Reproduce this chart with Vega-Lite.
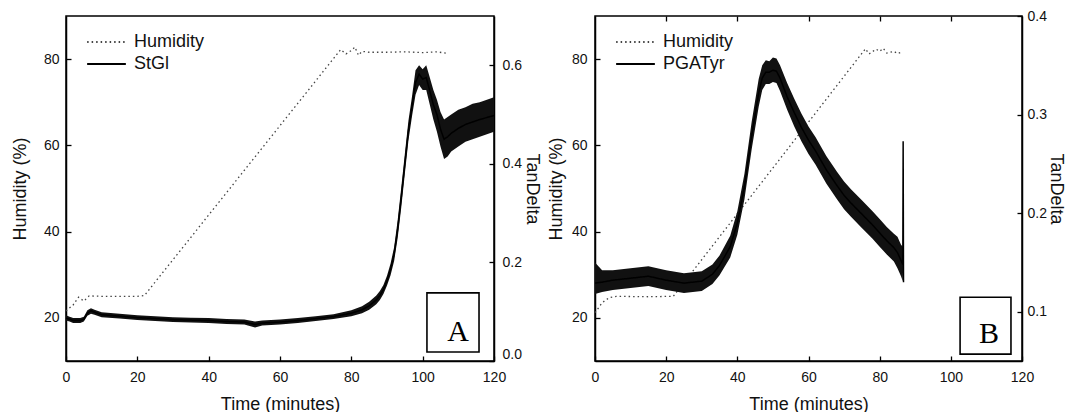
{
  "$schema": "https://vega.github.io/schema/vega-lite/v6.json",
  "background": "white",
  "padding": {"left": 10, "top": 8, "right": 2, "bottom": 0},
  "bounds": "flush",
  "spacing": 101,
  "config": {
    "view": {"stroke": "#000", "strokeWidth": 1.5},
    "font": "Liberation Sans",
    "axis": {
      "labelFont": "Liberation Sans", "labelFontSize": 14, "labelColor": "#111",
      "titleFont": "Liberation Sans", "titleFontSize": 18, "titleFontWeight": "normal", "titleColor": "#111",
      "grid": false, "domainColor": "#000", "domainWidth": 1.5,
      "tickColor": "#000", "tickWidth": 1.3, "tickSize": -5
    },
    "legend": {
      "labelFont": "Liberation Sans", "labelFontSize": 18, "labelColor": "#111",
      "symbolType": "stroke", "symbolSize": 1500, "symbolStrokeWidth": 1.8,
      "symbolOffset": 5, "labelOffset": 7, "rowPadding": 0, "clipHeight": 22, "padding": 0, "offset": 15
    }
  },
  "resolve": {"scale": {"color": "independent", "strokeDash": "independent"}},
  "datasets": {
    "humA": [
      {"t": 0, "h": 21.6, "series": "Humidity"}, {"t": 2, "h": 23.0, "series": "Humidity"},
      {"t": 3.5, "h": 24.8, "series": "Humidity"}, {"t": 5, "h": 23.9, "series": "Humidity"},
      {"t": 6.5, "h": 25.1, "series": "Humidity"}, {"t": 10, "h": 25.0, "series": "Humidity"},
      {"t": 15, "h": 25.0, "series": "Humidity"}, {"t": 20, "h": 25.0, "series": "Humidity"},
      {"t": 22, "h": 25.2, "series": "Humidity"}, {"t": 77, "h": 82.2, "series": "Humidity"},
      {"t": 78.5, "h": 81.2, "series": "Humidity"}, {"t": 80, "h": 82.0, "series": "Humidity"},
      {"t": 81, "h": 82.8, "series": "Humidity"}, {"t": 82, "h": 80.9, "series": "Humidity"},
      {"t": 83, "h": 81.8, "series": "Humidity"}, {"t": 85, "h": 81.6, "series": "Humidity"},
      {"t": 90, "h": 81.6, "series": "Humidity"}, {"t": 95, "h": 81.7, "series": "Humidity"},
      {"t": 100, "h": 81.5, "series": "Humidity"}, {"t": 104, "h": 81.7, "series": "Humidity"},
      {"t": 107, "h": 81.3, "series": "Humidity"}
    ],
    "tdA": [
      {"t": 0, "mid": 0.087, "lo": 0.082, "hi": 0.093, "series": "StGl"},
      {"t": 1, "mid": 0.085, "lo": 0.080, "hi": 0.090, "series": "StGl"},
      {"t": 2, "mid": 0.082, "lo": 0.077, "hi": 0.087, "series": "StGl"},
      {"t": 4, "mid": 0.082, "lo": 0.077, "hi": 0.087, "series": "StGl"},
      {"t": 5, "mid": 0.085, "lo": 0.080, "hi": 0.090, "series": "StGl"},
      {"t": 6, "mid": 0.097, "lo": 0.092, "hi": 0.103, "series": "StGl"},
      {"t": 7, "mid": 0.102, "lo": 0.096, "hi": 0.107, "series": "StGl"},
      {"t": 8, "mid": 0.099, "lo": 0.094, "hi": 0.104, "series": "StGl"},
      {"t": 10, "mid": 0.094, "lo": 0.089, "hi": 0.099, "series": "StGl"},
      {"t": 15, "mid": 0.091, "lo": 0.086, "hi": 0.096, "series": "StGl"},
      {"t": 20, "mid": 0.088, "lo": 0.083, "hi": 0.093, "series": "StGl"},
      {"t": 25, "mid": 0.086, "lo": 0.081, "hi": 0.091, "series": "StGl"},
      {"t": 30, "mid": 0.084, "lo": 0.079, "hi": 0.089, "series": "StGl"},
      {"t": 35, "mid": 0.083, "lo": 0.078, "hi": 0.088, "series": "StGl"},
      {"t": 40, "mid": 0.082, "lo": 0.077, "hi": 0.087, "series": "StGl"},
      {"t": 45, "mid": 0.080, "lo": 0.075, "hi": 0.085, "series": "StGl"},
      {"t": 50, "mid": 0.079, "lo": 0.074, "hi": 0.084, "series": "StGl"},
      {"t": 53, "mid": 0.074, "lo": 0.068, "hi": 0.080, "series": "StGl"},
      {"t": 55, "mid": 0.077, "lo": 0.072, "hi": 0.082, "series": "StGl"},
      {"t": 60, "mid": 0.079, "lo": 0.074, "hi": 0.084, "series": "StGl"},
      {"t": 65, "mid": 0.082, "lo": 0.077, "hi": 0.087, "series": "StGl"},
      {"t": 70, "mid": 0.086, "lo": 0.081, "hi": 0.091, "series": "StGl"},
      {"t": 75, "mid": 0.090, "lo": 0.085, "hi": 0.095, "series": "StGl"},
      {"t": 80, "mid": 0.097, "lo": 0.091, "hi": 0.103, "series": "StGl"},
      {"t": 83, "mid": 0.104, "lo": 0.097, "hi": 0.111, "series": "StGl"},
      {"t": 85, "mid": 0.112, "lo": 0.104, "hi": 0.120, "series": "StGl"},
      {"t": 87, "mid": 0.124, "lo": 0.115, "hi": 0.133, "series": "StGl"},
      {"t": 88, "mid": 0.133, "lo": 0.124, "hi": 0.142, "series": "StGl"},
      {"t": 89, "mid": 0.145, "lo": 0.136, "hi": 0.154, "series": "StGl"},
      {"t": 90, "mid": 0.163, "lo": 0.153, "hi": 0.173, "series": "StGl"},
      {"t": 91, "mid": 0.186, "lo": 0.174, "hi": 0.198, "series": "StGl"},
      {"t": 92, "mid": 0.217, "lo": 0.203, "hi": 0.231, "series": "StGl"},
      {"t": 93, "mid": 0.268, "lo": 0.250, "hi": 0.286, "series": "StGl"},
      {"t": 94, "mid": 0.332, "lo": 0.312, "hi": 0.352, "series": "StGl"},
      {"t": 95, "mid": 0.400, "lo": 0.380, "hi": 0.420, "series": "StGl"},
      {"t": 96, "mid": 0.467, "lo": 0.447, "hi": 0.487, "series": "StGl"},
      {"t": 97, "mid": 0.516, "lo": 0.496, "hi": 0.536, "series": "StGl"},
      {"t": 98, "mid": 0.565, "lo": 0.540, "hi": 0.590, "series": "StGl"},
      {"t": 99, "mid": 0.582, "lo": 0.560, "hi": 0.600, "series": "StGl"},
      {"t": 100, "mid": 0.572, "lo": 0.550, "hi": 0.592, "series": "StGl"},
      {"t": 101, "mid": 0.575, "lo": 0.550, "hi": 0.600, "series": "StGl"},
      {"t": 102, "mid": 0.548, "lo": 0.520, "hi": 0.575, "series": "StGl"},
      {"t": 103, "mid": 0.520, "lo": 0.490, "hi": 0.550, "series": "StGl"},
      {"t": 104, "mid": 0.500, "lo": 0.465, "hi": 0.530, "series": "StGl"},
      {"t": 105, "mid": 0.470, "lo": 0.435, "hi": 0.505, "series": "StGl"},
      {"t": 106, "mid": 0.450, "lo": 0.410, "hi": 0.490, "series": "StGl"},
      {"t": 107, "mid": 0.455, "lo": 0.415, "hi": 0.495, "series": "StGl"},
      {"t": 108, "mid": 0.462, "lo": 0.425, "hi": 0.500, "series": "StGl"},
      {"t": 110, "mid": 0.472, "lo": 0.435, "hi": 0.510, "series": "StGl"},
      {"t": 112, "mid": 0.480, "lo": 0.445, "hi": 0.515, "series": "StGl"},
      {"t": 114, "mid": 0.485, "lo": 0.450, "hi": 0.522, "series": "StGl"},
      {"t": 116, "mid": 0.490, "lo": 0.455, "hi": 0.525, "series": "StGl"},
      {"t": 118, "mid": 0.494, "lo": 0.460, "hi": 0.530, "series": "StGl"},
      {"t": 120, "mid": 0.498, "lo": 0.465, "hi": 0.535, "series": "StGl"}
    ],
    "humB": [
      {"t": 0, "h": 21.2, "series": "Humidity"}, {"t": 2, "h": 23.5, "series": "Humidity"},
      {"t": 4, "h": 24.7, "series": "Humidity"}, {"t": 6, "h": 25.0, "series": "Humidity"},
      {"t": 15, "h": 24.9, "series": "Humidity"}, {"t": 22, "h": 25.0, "series": "Humidity"},
      {"t": 76, "h": 82.4, "series": "Humidity"}, {"t": 77, "h": 81.2, "series": "Humidity"},
      {"t": 79, "h": 82.3, "series": "Humidity"}, {"t": 80, "h": 81.8, "series": "Humidity"},
      {"t": 81, "h": 82.5, "series": "Humidity"}, {"t": 82, "h": 81.4, "series": "Humidity"},
      {"t": 84, "h": 81.8, "series": "Humidity"}, {"t": 85, "h": 81.3, "series": "Humidity"},
      {"t": 86, "h": 81.6, "series": "Humidity"}
    ],
    "tdB": [
      {"t": 0, "mid": 0.129, "lo": 0.118, "hi": 0.150, "series": "PGATyr"},
      {"t": 2, "mid": 0.130, "lo": 0.120, "hi": 0.142, "series": "PGATyr"},
      {"t": 5, "mid": 0.132, "lo": 0.122, "hi": 0.142, "series": "PGATyr"},
      {"t": 10, "mid": 0.134, "lo": 0.124, "hi": 0.144, "series": "PGATyr"},
      {"t": 15, "mid": 0.136, "lo": 0.126, "hi": 0.146, "series": "PGATyr"},
      {"t": 20, "mid": 0.132, "lo": 0.122, "hi": 0.142, "series": "PGATyr"},
      {"t": 25, "mid": 0.129, "lo": 0.119, "hi": 0.139, "series": "PGATyr"},
      {"t": 30, "mid": 0.131, "lo": 0.121, "hi": 0.141, "series": "PGATyr"},
      {"t": 33, "mid": 0.138, "lo": 0.128, "hi": 0.148, "series": "PGATyr"},
      {"t": 35, "mid": 0.147, "lo": 0.137, "hi": 0.157, "series": "PGATyr"},
      {"t": 38, "mid": 0.166, "lo": 0.155, "hi": 0.177, "series": "PGATyr"},
      {"t": 40, "mid": 0.190, "lo": 0.178, "hi": 0.202, "series": "PGATyr"},
      {"t": 42, "mid": 0.227, "lo": 0.214, "hi": 0.240, "series": "PGATyr"},
      {"t": 44, "mid": 0.278, "lo": 0.264, "hi": 0.292, "series": "PGATyr"},
      {"t": 46, "mid": 0.322, "lo": 0.308, "hi": 0.336, "series": "PGATyr"},
      {"t": 47, "mid": 0.337, "lo": 0.325, "hi": 0.350, "series": "PGATyr"},
      {"t": 48, "mid": 0.343, "lo": 0.331, "hi": 0.355, "series": "PGATyr"},
      {"t": 49, "mid": 0.343, "lo": 0.331, "hi": 0.354, "series": "PGATyr"},
      {"t": 50, "mid": 0.345, "lo": 0.333, "hi": 0.358, "series": "PGATyr"},
      {"t": 51, "mid": 0.344, "lo": 0.332, "hi": 0.357, "series": "PGATyr"},
      {"t": 52, "mid": 0.337, "lo": 0.324, "hi": 0.350, "series": "PGATyr"},
      {"t": 54, "mid": 0.318, "lo": 0.305, "hi": 0.332, "series": "PGATyr"},
      {"t": 56, "mid": 0.302, "lo": 0.288, "hi": 0.316, "series": "PGATyr"},
      {"t": 58, "mid": 0.287, "lo": 0.273, "hi": 0.301, "series": "PGATyr"},
      {"t": 60, "mid": 0.274, "lo": 0.260, "hi": 0.288, "series": "PGATyr"},
      {"t": 62, "mid": 0.263, "lo": 0.249, "hi": 0.277, "series": "PGATyr"},
      {"t": 65, "mid": 0.244, "lo": 0.230, "hi": 0.258, "series": "PGATyr"},
      {"t": 68, "mid": 0.228, "lo": 0.214, "hi": 0.242, "series": "PGATyr"},
      {"t": 70, "mid": 0.218, "lo": 0.204, "hi": 0.232, "series": "PGATyr"},
      {"t": 72, "mid": 0.210, "lo": 0.196, "hi": 0.224, "series": "PGATyr"},
      {"t": 75, "mid": 0.199, "lo": 0.185, "hi": 0.213, "series": "PGATyr"},
      {"t": 78, "mid": 0.188, "lo": 0.174, "hi": 0.202, "series": "PGATyr"},
      {"t": 80, "mid": 0.180, "lo": 0.166, "hi": 0.194, "series": "PGATyr"},
      {"t": 82, "mid": 0.172, "lo": 0.158, "hi": 0.186, "series": "PGATyr"},
      {"t": 84, "mid": 0.165, "lo": 0.151, "hi": 0.179, "series": "PGATyr"},
      {"t": 85, "mid": 0.160, "lo": 0.144, "hi": 0.176, "series": "PGATyr"},
      {"t": 86, "mid": 0.152, "lo": 0.136, "hi": 0.168, "series": "PGATyr"},
      {"t": 86.5, "mid": 0.148, "lo": 0.131, "hi": 0.166, "series": "PGATyr"},
      {"t": 86.6, "mid": 0.273, "lo": 0.148, "hi": 0.148, "series": "PGATyr"},
      {"t": 86.7, "mid": 0.130, "lo": 0.130, "hi": 0.130, "series": "PGATyr"}
    ],
    "boxA": [{"t1": 101.2, "t2": 115.8, "h1": 12.1, "h2": 25.8, "tc": 109.9, "hb": 14.6, "label": "A"}],
    "boxB": [{"t1": 102.6, "t2": 116.9, "h1": 11.6, "h2": 24.8, "tc": 110.7, "hb": 14.2, "label": "B"}]
  },
  "hconcat": [
    {
      "width": 428, "height": 345,
      "resolve": {"scale": {"y": "independent"}},
      "layer": [
        {
          "data": {"name": "humA"},
          "mark": {"type": "line", "strokeWidth": 1.3},
          "encoding": {
            "x": {"field": "t", "type": "quantitative", "scale": {"domain": [0, 120], "nice": false},
                  "axis": {"values": [0, 20, 40, 60, 80, 100, 120], "title": "Time (minutes)", "labelFlush": false, "labelPadding": 14, "titlePadding": 11}},
            "y": {"field": "h", "type": "quantitative", "scale": {"domain": [10, 90], "nice": false},
                  "axis": {"orient": "left", "values": [20, 40, 60, 80], "title": "Humidity (%)", "labelPadding": 12, "titlePadding": 14}},
            "color": {"field": "series", "type": "nominal", "scale": {"domain": ["Humidity", "StGl"], "range": ["#444", "#000"]},
                      "legend": {"orient": "top-left", "title": null}},
            "strokeDash": {"field": "series", "type": "nominal", "scale": {"domain": ["Humidity", "StGl"], "range": [[1.5, 3], [1, 0]]},
                           "legend": {"orient": "top-left", "title": null}}
          }
        },
        {
          "data": {"name": "tdA"},
          "layer": [
            {
              "mark": {"type": "area", "color": "#111"},
              "encoding": {
                "x": {"field": "t", "type": "quantitative"},
                "y": {"field": "lo", "type": "quantitative", "scale": {"domain": [0, 0.7], "nice": false},
                      "axis": {"orient": "right", "values": [0, 0.2, 0.4, 0.6], "format": ".1f", "title": "TanDelta", "labelFlush": true, "labelPadding": 13, "titlePadding": 1}},
                "y2": {"field": "hi"}
              }
            },
            {
              "mark": {"type": "line", "strokeWidth": 1.5},
              "encoding": {
                "x": {"field": "t", "type": "quantitative"},
                "y": {"field": "mid", "type": "quantitative"},
                "color": {"field": "series", "type": "nominal"},
                "strokeDash": {"field": "series", "type": "nominal"}
              }
            }
          ]
        },
        {
          "data": {"name": "boxA"},
          "layer": [
            {
              "mark": {"type": "rect", "fill": "white", "stroke": "#000", "strokeWidth": 1.6},
              "encoding": {
                "x": {"field": "t1", "type": "quantitative"}, "x2": {"field": "t2"},
                "y": {"field": "h1", "type": "quantitative", "scale": {"domain": [10, 90], "nice": false}, "axis": null},
                "y2": {"field": "h2"}
              }
            },
            {
              "mark": {"type": "text", "font": "Liberation Serif", "fontSize": 30, "baseline": "alphabetic", "align": "center", "color": "#000"},
              "encoding": {
                "x": {"field": "tc", "type": "quantitative"},
                "y": {"field": "hb", "type": "quantitative"},
                "text": {"field": "label"}
              }
            }
          ]
        }
      ]
    },
    {
      "width": 427, "height": 345,
      "resolve": {"scale": {"y": "independent"}, "axis": {"x": "independent"}},
      "layer": [
        {
          "data": {"name": "humB"},
          "mark": {"type": "line", "strokeWidth": 1.3},
          "encoding": {
            "x": {"field": "t", "type": "quantitative", "scale": {"domain": [0, 120], "nice": false},
                  "axis": {"values": [0, 20, 40, 60, 80, 100, 120], "title": "Time (minutes)", "labelFlush": false, "labelPadding": 14, "titlePadding": 11}},
            "y": {"field": "h", "type": "quantitative", "scale": {"domain": [10, 90], "nice": false},
                  "axis": {"orient": "left", "values": [20, 40, 60, 80], "title": "Humidity (%)", "labelPadding": 13, "titlePadding": 6}},
            "color": {"field": "series", "type": "nominal", "scale": {"domain": ["Humidity", "PGATyr"], "range": ["#444", "#000"]},
                      "legend": {"orient": "top-left", "title": null}},
            "strokeDash": {"field": "series", "type": "nominal", "scale": {"domain": ["Humidity", "PGATyr"], "range": [[1.5, 3], [1, 0]]},
                           "legend": {"orient": "top-left", "title": null}}
          }
        },
        {
          "data": {"name": "tdB"},
          "layer": [
            {
              "mark": {"type": "area", "color": "#111"},
              "encoding": {
                "x": {"field": "t", "type": "quantitative",
                      "axis": {"orient": "top", "values": [20, 40, 60, 80, 100], "labels": false, "title": null, "domain": false}},
                "y": {"field": "lo", "type": "quantitative", "scale": {"domain": [0.05, 0.4], "nice": false},
                      "axis": {"orient": "right", "values": [0.1, 0.2, 0.3, 0.4], "format": ".1f", "title": "TanDelta", "labelPadding": 10, "titlePadding": 0}},
                "y2": {"field": "hi"}
              }
            },
            {
              "mark": {"type": "line", "strokeWidth": 1.5},
              "encoding": {
                "x": {"field": "t", "type": "quantitative"},
                "y": {"field": "mid", "type": "quantitative"},
                "color": {"field": "series", "type": "nominal"},
                "strokeDash": {"field": "series", "type": "nominal"}
              }
            }
          ]
        },
        {
          "data": {"name": "boxB"},
          "layer": [
            {
              "mark": {"type": "rect", "fill": "white", "stroke": "#000", "strokeWidth": 1.6},
              "encoding": {
                "x": {"field": "t1", "type": "quantitative", "axis": null}, "x2": {"field": "t2"},
                "y": {"field": "h1", "type": "quantitative", "scale": {"domain": [10, 90], "nice": false}, "axis": null},
                "y2": {"field": "h2"}
              }
            },
            {
              "mark": {"type": "text", "font": "Liberation Serif", "fontSize": 30, "baseline": "alphabetic", "align": "center", "color": "#000"},
              "encoding": {
                "x": {"field": "tc", "type": "quantitative", "axis": null},
                "y": {"field": "hb", "type": "quantitative"},
                "text": {"field": "label"}
              }
            }
          ]
        }
      ]
    }
  ]
}
